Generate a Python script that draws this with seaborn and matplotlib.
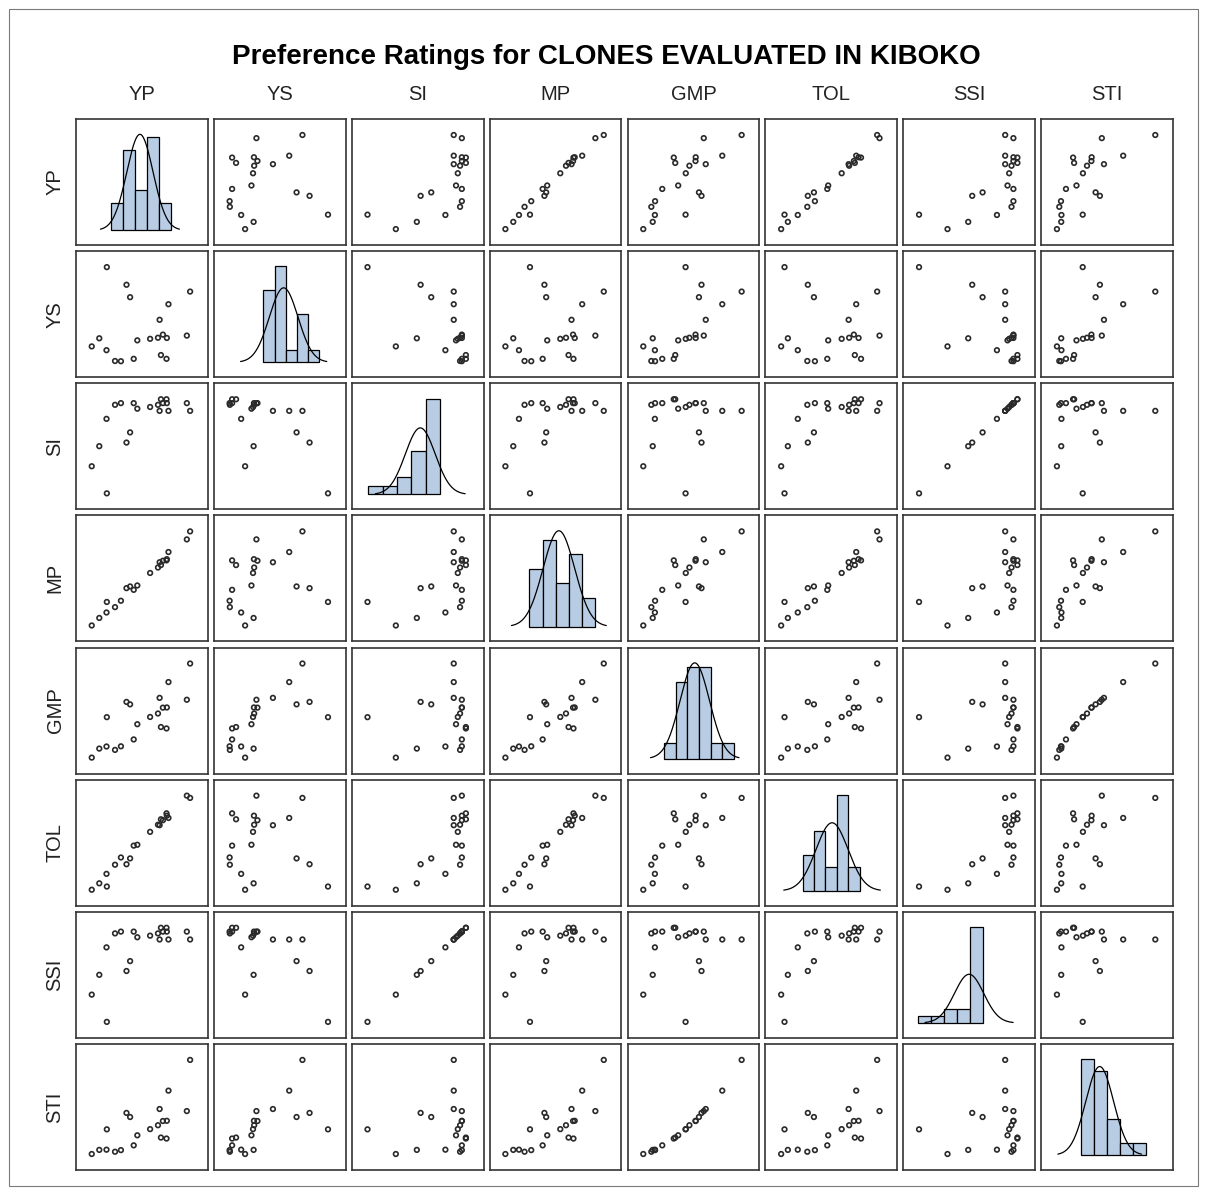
import matplotlib
matplotlib.use('Agg')
import matplotlib.pyplot as plt
import numpy as np
import seaborn as sns
from matplotlib.patches import Rectangle

# Values for the 20 clones
variables = ['YP', 'YS', 'SI', 'MP', 'GMP', 'TOL', 'SSI', 'STI']

yp = [9.6, 15.6, 16.7, 35.0, 28.4, 25.7, 7.3, 5.0, 9.5, 12.1,
      13.9, 17.8, 18.9, 22.8, 25.2, 26.7, 27.9, 34.0, 26.1, 27.8]
ys = [9.53, 7.9, 6.75, 7.27, 6.1, 4.66, 2.95, 2.2, 1.85, 0.85,
      0.83, 1.05, 2.76, 2.9, 3.0, 3.29, 2.98, 3.2, 1.4, 1.05]
si = [0.554, 0.764, 0.806, 0.895, 0.895, 0.895, 0.749, 0.666, 0.862, 0.92,
      0.927, 0.927, 0.904, 0.911, 0.92, 0.927, 0.927, 0.927, 0.943, 0.943]
mp = [7.31, 9.84, 10.15, 20.24, 16.46, 14.59, 4.38, 3.0, 5.38, 6.36,
      7.53, 9.53, 10.33, 12.62, 13.62, 14.86, 15.15, 18.77, 14.07, 14.93]
gmp = [6.3, 7.92, 7.66, 12.0, 10.03, 8.35, 2.96, 2.0, 3.18, 2.82,
       3.2, 3.93, 5.55, 6.32, 6.69, 7.31, 7.33, 8.15, 5.25, 5.1]
tol = [4.92, 11.32, 12.99, 30.35, 24.6, 22.52, 5.84, 4.0, 8.56, 11.18,
       13.26, 16.66, 16.91, 20.61, 22.66, 23.95, 25.25, 31.0, 24.22, 25.92]
ssi = [0.596, 0.822, 0.866, 0.962, 0.962, 0.962, 0.805, 0.717, 0.927, 0.989,
       0.997, 0.997, 0.972, 0.979, 0.989, 0.997, 0.997, 0.997, 1.014, 1.014]
sti = [0.278, 0.43, 0.392, 0.92, 0.636, 0.466, 0.088, 0.05, 0.09, 0.071,
       0.086, 0.13, 0.223, 0.28, 0.316, 0.355, 0.357, 0.447, 0.202, 0.193]

data = {'YP': yp, 'YS': ys, 'SI': si, 'MP': mp, 'GMP': gmp,
        'TOL': tol, 'SSI': ssi, 'STI': sti}

# histogram bins: (first edge, bin width, number of bins)
hist_bins = {'YP': (1.0, 8.0, 5), 'YS': (0.0, 2.0, 5), 'SI': (0.5, 0.1, 5),
             'MP': (2.48, 4.0, 5), 'GMP': (0.7, 2.05, 6), 'TOL': (2.38, 6.0, 5),
             'SSI': (0.535, 0.1, 5), 'STI': (0.0143, 0.2, 5)}

# extra room on the histogram x axis (left, right), as fraction of the drawn range
hist_pad = {'YP': (0.31, 0.36), 'YS': (0.31, 0.22), 'SI': (0.17, 0.19),
            'MP': (0.23, 0.16), 'GMP': (0.26, 0.23), 'TOL': (0.19, 0.175),
            'SSI': (0.15, 0.23), 'STI': (0.19, 0.31)}

title = 'Preference Ratings for CLONES EVALUATED IN KIBOKO'

sns.set_theme(style='white')
plt.rcParams['font.family'] = ['Liberation Sans', 'DejaVu Sans']

W, H = 1207, 1193
fig, axes = plt.subplots(8, 8, figsize=(W / 100, H / 100), dpi=100)
plt.subplots_adjust(left=76 / W, right=1173 / W, top=1 - 119 / H, bottom=1 - 1170 / H,
                     wspace=0.046, hspace=0.048)

bar_color = '#B8CCE4'
frame_color = '#333333'

for i, row_var in enumerate(variables):
    for j, col_var in enumerate(variables):
        ax = axes[i, j]
        x = np.array(data[col_var])
        if i == j:
            start, width, nb = hist_bins[col_var]
            edges = start + width * np.arange(nb + 1)
            sns.histplot(x=x, bins=edges, stat='count', ax=ax, color=bar_color,
                         edgecolor='black', linewidth=0.9, alpha=1.0)
            mu, sd = x.mean(), x.std(ddof=1)
            grid = np.linspace(mu - 3 * sd, mu + 3 * sd, 200)
            curve = len(x) * width * np.exp(-0.5 * ((grid - mu) / sd) ** 2) / (sd * np.sqrt(2 * np.pi))
            ax.plot(grid, curve, color='black', linewidth=0.9)
            counts, _ = np.histogram(x, bins=edges)
            top = max(counts.max(), curve.max())
            ax.set_ylim(-0.155 * top, 1.16 * top)
            lo = min(edges[0], grid[0])
            hi = max(edges[-1], grid[-1])
            pl, pr = hist_pad[col_var]
            ax.set_xlim(lo - pl * (hi - lo), hi + pr * (hi - lo))
        else:
            y = np.array(data[row_var])
            sns.scatterplot(x=x, y=y, ax=ax, marker='o', s=11, facecolor='none',
                            edgecolor='#2a2a2a', linewidth=1.2)
            rx = x.max() - x.min()
            ry = y.max() - y.min()
            ax.set_xlim(x.min() - 0.16 * rx, x.max() + 0.18 * rx)
            ax.set_ylim(y.min() - 0.17 * ry, y.max() + 0.17 * ry)
        ax.set_xticks([])
        ax.set_yticks([])
        ax.set_xlabel('')
        ax.set_ylabel('')
        for s in ax.spines.values():
            s.set_visible(True)
            s.set_color(frame_color)
            s.set_linewidth(1.2)

# column labels on top, row labels on the left
for j, var in enumerate(variables):
    pos = axes[0, j].get_position()
    fig.text((pos.x0 + pos.x1) / 2, 1 - 95 / H, var, ha='center', va='center',
             fontsize=14.5, color='#222222')
for i, var in enumerate(variables):
    pos = axes[i, 0].get_position()
    fig.text(55 / W, (pos.y0 + pos.y1) / 2, var, ha='center', va='center',
             rotation=90, fontsize=14.5, color='#222222')

fig.text(606 / W, 1 - 57 / H, title, ha='center', va='center',
         fontsize=20, fontweight='bold', color='black')

# outer border of the graph
fig.patches.append(Rectangle((9 / W, 7 / H), 1189 / W, 1177 / H, transform=fig.transFigure,
                             fill=False, edgecolor='#7a7a7a', linewidth=0.8))

fig.savefig('out.png', dpi=100)
